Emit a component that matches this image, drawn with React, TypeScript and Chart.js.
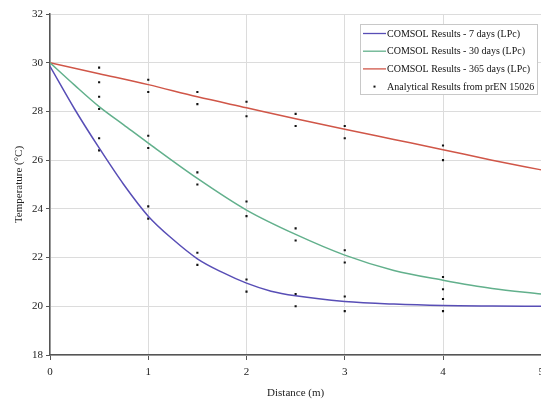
import React, { useEffect, useRef } from "react";
import { Chart, registerables } from "chart.js";

Chart.register(...registerables);

// ---- Data ----
const curve7Distances = [0, 0.25, 0.5, 0.75, 1, 1.25, 1.5, 1.75, 2, 2.25, 2.5, 3, 3.5, 4, 4.5, 5];
const curve7Temps = [29.85, 28.1, 26.5, 25.0, 23.7, 22.75, 21.95, 21.4, 20.95, 20.62, 20.43, 20.2, 20.09, 20.03, 20.01, 20.0];

const curve30Distances = [0, 0.25, 0.5, 0.75, 1, 1.5, 2, 2.5, 3, 3.5, 4, 4.5, 5];
const curve30Temps = [30.0, 29.08, 28.2, 27.45, 26.7, 25.25, 23.95, 22.95, 22.1, 21.47, 21.07, 20.73, 20.5];

const curve365Distances = [0, 0.5, 1, 1.5, 2, 2.5, 3, 3.5, 4, 4.5, 5];
const curve365Temps = [30.0, 29.55, 29.1, 28.6, 28.15, 27.7, 27.27, 26.85, 26.43, 26.0, 25.6];

const analyticalDistances = [0.5, 1, 1.5, 2, 2.5, 3, 4];
const analytical365High = [29.8, 29.3, 28.8, 28.4, 27.9, 27.4, 26.6];
const analytical365Low = [29.2, 28.8, 28.3, 27.8, 27.4, 26.9, 26.0];
const analytical30High = [28.6, 27.0, 25.5, 24.3, 23.2, 22.3, 21.2];
const analytical30Low = [28.1, 26.5, 25.0, 23.7, 22.7, 21.8, 20.7];
const analytical7High = [26.9, 24.1, 22.2, 21.1, 20.5, 20.4, 20.3];
const analytical7Low = [26.4, 23.6, 21.7, 20.6, 20.0, 19.8, 19.8];

const seriesLabels = [
  "COMSOL Results - 7 days (LPc)",
  "COMSOL Results - 30 days (LPc)",
  "COMSOL Results - 365 days (LPc)",
  "Analytical Results from prEN 15026",
];
const xTitle = "Distance (m)";
const yTitle = "Temperature (°C)";

const COLORS = ["rgb(88,78,182)", "rgb(98,176,140)", "rgb(208,86,72)", "#111"];
const FONT = "'Liberation Serif', 'Times New Roman', serif";

const toXY = (xs: number[], ys: number[]) => xs.map((x, i) => ({ x, y: ys[i] }));

const legendPlugin = {
  id: "boxLegend",
  afterDraw(chart: any) {
    const { ctx, chartArea } = chart;
    const w = 177;
    const h = 70;
    const x0 = Math.min(chartArea.right, 541) - 181;
    const y0 = chartArea.top + 10;
    ctx.save();
    ctx.fillStyle = "#fff";
    ctx.fillRect(x0, y0, w, h);
    ctx.strokeStyle = "#c8c8c8";
    ctx.lineWidth = 1;
    ctx.strokeRect(x0 + 0.5, y0 + 0.5, w, h);
    ctx.font = `10px ${FONT}`;
    ctx.textBaseline = "middle";
    ctx.textAlign = "left";
    seriesLabels.forEach((label, i) => {
      const cy = y0 + 9.5 + i * 17.7;
      if (i < 3) {
        ctx.strokeStyle = COLORS[i];
        ctx.lineWidth = 1.3;
        ctx.beginPath();
        ctx.moveTo(x0 + 3, cy);
        ctx.lineTo(x0 + 26, cy);
        ctx.stroke();
      } else {
        ctx.fillStyle = COLORS[3];
        ctx.fillRect(x0 + 13.5, cy - 1, 2, 2);
      }
      ctx.fillStyle = "#111";
      ctx.fillText(label, x0 + 27, cy + 0.5);
    });
    ctx.restore();
  },
};

export default function App() {
  const ref = useRef<HTMLCanvasElement | null>(null);

  useEffect(() => {
    if (!ref.current) return;
    const lineDs = (label: string, xs: number[], ys: number[], color: string) => ({
      type: "line" as const,
      label,
      data: toXY(xs, ys),
      borderColor: color,
      backgroundColor: color,
      borderWidth: 1.5,
      pointRadius: 0,
      cubicInterpolationMode: "monotone" as const,
      fill: false,
    });
    const analyticalPoints = [
      ...toXY(analyticalDistances, analytical365High),
      ...toXY(analyticalDistances, analytical365Low),
      ...toXY(analyticalDistances, analytical30High),
      ...toXY(analyticalDistances, analytical30Low),
      ...toXY(analyticalDistances, analytical7High),
      ...toXY(analyticalDistances, analytical7Low),
    ];
    const chart = new Chart(ref.current, {
      type: "scatter",
      data: {
        datasets: [
          lineDs(seriesLabels[0], curve7Distances, curve7Temps, COLORS[0]),
          lineDs(seriesLabels[1], curve30Distances, curve30Temps, COLORS[1]),
          lineDs(seriesLabels[2], curve365Distances, curve365Temps, COLORS[2]),
          {
            type: "scatter" as const,
            label: seriesLabels[3],
            data: analyticalPoints,
            pointStyle: "rect",
            pointRadius: 1.5,
            borderWidth: 0,
            backgroundColor: COLORS[3],
            borderColor: COLORS[3],
          },
        ],
      } as any,
      options: {
        responsive: false,
        animation: false,
        devicePixelRatio: 1,
        layout: { padding: { top: 14, left: 0, right: 0, bottom: 0 } },
        plugins: {
          legend: { display: false },
          tooltip: { enabled: false },
        },
        scales: {
          x: {
            type: "linear",
            min: 0,
            max: 5,
            afterFit: (s: any) => {
              s.height = 49;
            },
            ticks: {
              stepSize: 1,
              padding: 6,
              color: "#222",
              font: { family: FONT, size: 11 },
            },
            grid: {
              color: "#dcdcdc",
              tickColor: "#555",
              tickLength: 5,
              lineWidth: 1,
            },
            border: { color: "#555", width: 1.5 },
            title: {
              display: true,
              text: xTitle,
              color: "#222",
              font: { family: FONT, size: 11 },
              padding: { top: 0, bottom: 4 },
            },
          },
          y: {
            type: "linear",
            min: 18,
            max: 32,
            afterFit: (s: any) => {
              s.width = 50;
            },
            ticks: {
              stepSize: 2,
              padding: 3,
              color: "#222",
              font: { family: FONT, size: 11 },
            },
            grid: {
              color: "#dcdcdc",
              tickColor: "#555",
              tickLength: 4,
              lineWidth: 1,
            },
            border: { color: "#555", width: 1.5 },
            title: {
              display: true,
              text: yTitle,
              color: "#222",
              font: { family: FONT, size: 11 },
              padding: { top: 13, bottom: 0 },
            },
          },
        },
      } as any,
      plugins: [legendPlugin],
    });
    return () => chart.destroy();
  }, []);

  return (
    <div
      style={{
        position: "fixed",
        left: 0,
        top: 0,
        width: 541,
        height: 404,
        overflow: "hidden",
        background: "#fff",
      }}
    >
      <canvas ref={ref} width={550} height={404} style={{ display: "block" }} />
    </div>
  );
}
